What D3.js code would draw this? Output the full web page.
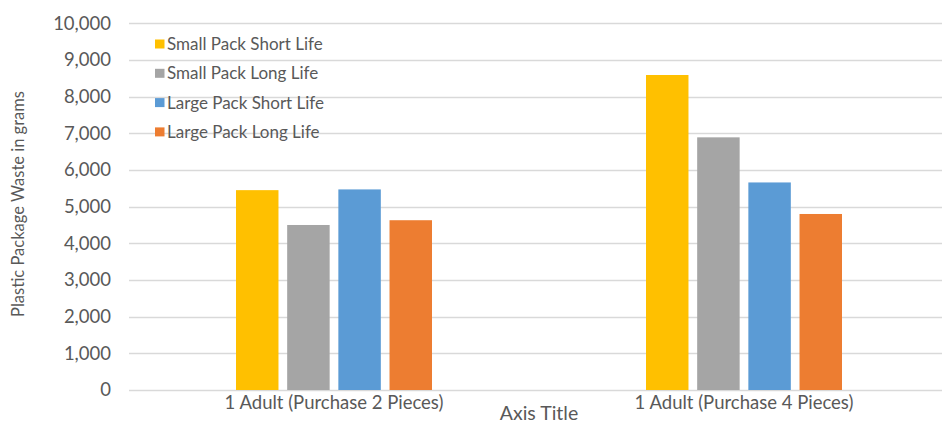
<!DOCTYPE html>
<html><head><meta charset="utf-8">
<script src="https://cdn.jsdelivr.net/npm/d3@7"></script>
<style>body{margin:0;background:#fff;} svg{display:block;font-family:Lato, "Open Sans", sans-serif;}</style>
</head><body>
<svg id="c" width="942" height="423"></svg>
<script>
const categories = ["1 Adult (Purchase 2 Pieces)", "1 Adult (Purchase 4 Pieces)"];
const seriesNames = ["Small Pack Short Life", "Small Pack Long Life", "Large Pack Short Life", "Large Pack Long Life"];
const smallShort = [5450, 8590];
const smallLong = [4500, 6890];
const largeShort = [5470, 5660];
const largeLong = [4630, 4800];
const yTicks = [0,1000,2000,3000,4000,5000,6000,7000,8000,9000,10000];
const colors = ["#FFC000", "#A5A5A5", "#5B9BD5", "#ED7D31"];
const seriesValues = [smallShort, smallLong, largeShort, largeLong];

const svg = d3.select("#c");
const x0 = d3.scaleBand().domain(categories).range([129, 949]);
const y = d3.scaleLinear().domain([0, 10000]).range([390, 23.3]);
const x1 = d3.scaleBand().domain(seriesNames).range([0, 196]).paddingInner(0.17);
const color = d3.scaleOrdinal().domain(seriesNames).range(colors);

// gridlines
svg.append("g").selectAll("line").data(yTicks).join("line")
  .attr("x1", 129).attr("x2", 942)
  .attr("y1", d => Math.round(y(d)) + 0.5).attr("y2", d => Math.round(y(d)) + 0.5)
  .attr("stroke", "#d9d9d9").attr("stroke-width", 1.5);

// y axis labels
const yAxis = d3.axisLeft(y).tickValues(yTicks).tickFormat(d3.format(",")).tickSize(0).tickPadding(0);
const ga = svg.append("g").attr("transform", "translate(111,0)").call(yAxis);
ga.select(".domain").remove();
ga.selectAll("text").attr("fill", "#595959").style("font-size", "18.5px").style("font-family", "Lato, sans-serif");

// bars
const data = [];
categories.forEach((c, i) => seriesNames.forEach((s, j) => data.push({c, s, v: seriesValues[j][i]})));
svg.append("g").selectAll("rect").data(data).join("rect")
  .attr("x", d => x0(d.c) + x0.bandwidth()/2 - 98 + x1(d.s))
  .attr("width", x1.bandwidth())
  .attr("y", d => y(d.v))
  .attr("height", d => y(0) - y(d.v))
  .attr("fill", d => color(d.s));

// category labels
const xAxis = d3.axisBottom(x0).tickSize(0).tickPadding(0);
const gx = svg.append("g").attr("transform", "translate(0,396)").call(xAxis);
gx.select(".domain").remove();
gx.selectAll("text").attr("fill", "#595959").style("font-size", "18.5px").style("font-family", "Lato, sans-serif");

// axis titles
svg.append("text").attr("x", 539).attr("y", 420).attr("text-anchor", "middle")
  .attr("fill", "#595959").style("font-size", "19.5px").text("Axis Title");
svg.append("text").attr("transform", "translate(24,204) rotate(-90)").attr("text-anchor", "middle")
  .attr("fill", "#595959").style("font-size", "16.5px").text("Plastic Package Waste in grams");

// legend
const lg = svg.append("g").selectAll("g").data(seriesNames).join("g")
  .attr("transform", (d, i) => `translate(155,${44 + i*29.3})`);
lg.append("rect").attr("x", 0).attr("y", -4.5).attr("width", 9.5).attr("height", 9).attr("fill", d => color(d));
lg.append("text").attr("x", 12).attr("y", 0).attr("dy", "0.35em").attr("fill", "#595959")
  .style("font-size", "17px").text(d => d);
</script>
</body></html>
